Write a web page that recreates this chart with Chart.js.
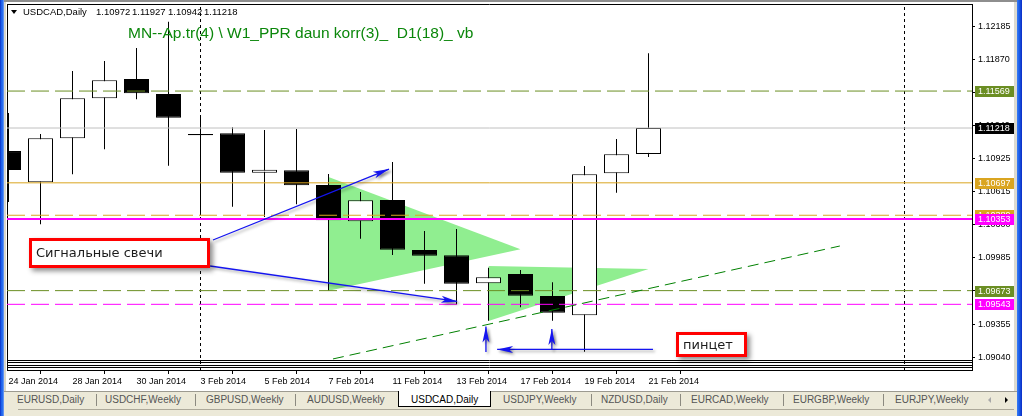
<!DOCTYPE html>
<html>
<head>
<meta charset="utf-8">
<script src="https://cdn.jsdelivr.net/npm/chart.js@4.4.1/dist/chart.umd.min.js"></script>
<style>
  html, body { margin: 0; padding: 0; background: #fff; overflow: hidden; }
  #wrap { position: relative; width: 1022px; height: 416px; background: #fff; font-family: "Liberation Sans", Arial, sans-serif; }
  #c { position: absolute; left: 0; top: 0; }
  .abs { position: absolute; white-space: pre; }
  #topbar { left: 0; top: 0; width: 1022px; height: 2px; background: #8e8e8e; }
  #lframe { left: 0; top: 0; width: 4px; height: 416px; background: linear-gradient(to right, #0a2bc4 0, #1a5de8 30%, #2f73f2 75%, #8fb0f0 100%); }
  #lgap { left: 4px; top: 2px; width: 2px; height: 414px; background: #d8d6cc; }
  #rgap { left: 1014px; top: 2px; width: 3px; height: 414px; background: #dcdad0; }
  #rframe { left: 1017px; top: 0; width: 5px; height: 416px; background: linear-gradient(to right, #3a7cf4 0, #1a5de8 45%, #0a2bc4 100%); }
  #hdrTri { left: 11px; top: 10px; width: 0; height: 0; border-left: 3px solid transparent; border-right: 3px solid transparent; border-top: 4px solid #000; }
  .hdr { top: 6px; font-size: 9.5px; line-height: 12px; color: #000; }
  #title { left: 128px; top: 24px; font-size: 15.5px; line-height: 18px; color: #0b870b; }
  #tabs { left: 4px; top: 391px; width: 1013px; height: 25px; background: #ece9d8; border-top: 1px solid #9c9a90; box-sizing: border-box; }
  #tabsLine { left: 18px; top: 409px; width: 996px; height: 1px; background: #aca899; }
  .tab { top: 394px; font-size: 10px; line-height: 12px; color: #555; }
  .tab.on { color: #000; }
  .sep { top: 394px; width: 1px; height: 12px; background: #8c8a80; }
  #active { left: 398px; top: 391px; width: 93px; height: 16px; background: #fff; border: 1px solid #000; border-top: none; box-sizing: border-box; }
  #navL { left: 988px; top: 397px; width: 0; height: 0; border-top: 3px solid transparent; border-bottom: 3px solid transparent; border-right: 3px solid #a8a8a8; }
  #navR { left: 1005px; top: 397px; width: 0; height: 0; border-top: 3px solid transparent; border-bottom: 3px solid transparent; border-left: 3px solid #000; }
</style>
</head>
<body>
<div id="wrap">
  <canvas id="c" width="1022" height="391"></canvas>
  <div class="abs" id="topbar"></div>
  <div class="abs" id="lframe"></div>
  <div class="abs" id="lgap"></div>
  <div class="abs" id="rgap"></div>
  <div class="abs" id="rframe"></div>
  <div class="abs" id="hdrTri"></div>
  <div class="abs hdr" style="left:23px">USDCAD,Daily</div>
  <div class="abs hdr" id="q0" style="left:96px"></div>
  <div class="abs hdr" id="q1" style="left:132px"></div>
  <div class="abs hdr" id="q2" style="left:168px"></div>
  <div class="abs hdr" id="q3" style="left:204px"></div>
  <div class="abs" id="title">MN--Ap.tr(4) \ W1_PPR daun korr(3)_  D1(18)_ vb</div>
  <div class="abs" id="tabs"></div>
  <div class="abs" id="tabsLine"></div>
  <div class="abs" id="active"></div>
  <div class="abs" id="navL"></div>
  <div class="abs" id="navR"></div>
</div>
<script>
// ---- daily USDCAD candles ----
const days = ['24 Jan 2014', '27 Jan 2014', '28 Jan 2014', '29 Jan 2014', '30 Jan 2014', '31 Jan 2014',
  '3 Feb 2014', '4 Feb 2014', '5 Feb 2014', '6 Feb 2014', '7 Feb 2014', '10 Feb 2014', '11 Feb 2014',
  '12 Feb 2014', '13 Feb 2014', '14 Feb 2014', '17 Feb 2014', '18 Feb 2014', '19 Feb 2014', '20 Feb 2014', '21 Feb 2014'];
const opens  = [1.10999, 1.10702, 1.11120, 1.11500, 1.11684, 1.11541, 1.11160, 1.11168, 1.10793, 1.10816, 1.10677,
  1.10332, 1.10534, 1.10059, 1.10009, 1.09743, 1.09831, 1.09622, 1.09439, 1.10788, 1.10972];
const highs  = [1.11361, 1.11161, 1.11760, 1.11855, 1.11978, 1.12228, 1.11316, 1.11225, 1.11199, 1.11208, 1.10781,
  1.10610, 1.10895, 1.10239, 1.10258, 1.09891, 1.09869, 1.09752, 1.10857, 1.11114, 1.11927];
const lows   = [1.10515, 1.10303, 1.10778, 1.11016, 1.11491, 1.10860, 1.10391, 1.10470, 1.10372, 1.10493, 1.09673,
  1.10166, 1.10011, 1.09739, 1.09543, 1.09387, 1.09515, 1.09387, 1.09093, 1.10603, 1.10942];
const closes = [1.10819, 1.11120, 1.11500, 1.11671, 1.11548, 1.11316, 1.11150, 1.10793, 1.10822, 1.10674, 1.10341,
  1.10531, 1.10062, 1.10005, 1.09739, 1.09800, 1.09625, 1.09463, 1.10778, 1.10968, 1.11218];

// date ticks (bar indices) and price ticks of the scales
const dateTicks = [0, 2, 4, 6, 8, 10, 12, 14, 16, 18, 20];
const priceTicks = [1.12185, 1.11870, 1.11555, 1.11240, 1.10925, 1.10615, 1.10300, 1.09985, 1.09670, 1.09355, 1.09040];

// horizontal levels: olive, bid, gold, gold dashed, magenta, olive, magenta dashed
const levels = [1.11569, 1.11218, 1.10697, 1.10389, 1.10353, 1.09673, 1.09543];

// two green triangles: left edge bar, top/bottom of that edge, apex bar and apex price
const triLeftX = [10, 15];
const triTopY = [1.10753, 1.09907];
const triBottomY = [1.09673, 1.09385];
const triApexX = [16, 20];
const triApexY = [1.10066, 1.09879];

// dashed support trend line (bar index, price)
const trendX = [10.14, 25.98];
const trendY = [1.09024, 1.10097];

// vertical dotted markers (bar index)
const vMarks = [6, 28];

// blue arrows: start and tip (bar index, price)
const arrowFrom = [[6.39, 1.10154], [6.30, 1.09907], [14.92, 1.09090], [16.98, 1.09109], [20.14, 1.09114]];
const arrowTo   = [[11.89, 1.10828], [14.02, 1.09570], [14.92, 1.09332], [16.98, 1.09309], [15.27, 1.09114]];

// text notes anchored at (bar index, price) of their top-left corner
const notes = ['Сигнальные свечи', 'пинцет'];
const noteAt = [[0.65, 1.10173], [20.86, 1.09280]];

// ---- styling ----
const X_MIN = -0.046875, X_MAX = 30.109375;
const Y_MIN = 1.08919, Y_MAX = 1.12396;
const levelStyle = [
  { color: '#6b8e23', dash: [18, 6], width: 1, label: '#6b8e23' },
  { color: '#c0c0c0', dash: [], width: 1, label: '#000000' },
  { color: '#daa520', dash: [], width: 1, label: '#daa520' },
  { color: '#daa520', dash: [18, 6], width: 1, label: '#daa520' },
  { color: '#ff00ff', dash: [], width: 2, label: '#ff00ff' },
  { color: '#6b8e23', dash: [18, 6], width: 1, label: '#6b8e23' },
  { color: '#ff00ff', dash: [18, 6], width: 1, label: '#ff00ff' }
];
const noteBox = [{ w: 181, h: 30 }, { w: 71, h: 25 }];
const AXIS_FONT = { family: 'Liberation Sans', size: 9 };

// header quote values
['q0', 'q1', 'q2', 'q3'].forEach((id, k) => {
  const v = [opens[20], highs[20], lows[20], closes[20]][k];
  document.getElementById(id).textContent = v.toFixed(5);
});

// symbol tabs
const tabNames = ['EURUSD,Daily', 'USDCHF,Weekly', 'GBPUSD,Weekly', 'AUDUSD,Weekly', 'USDCAD,Daily',
  'USDJPY,Weekly', 'NZDUSD,Daily', 'EURCAD,Weekly', 'EURGBP,Weekly', 'EURJPY,Weekly'];
const tabLeft = [17, 105, 206, 307, 411, 503, 601, 691, 793, 895];
const sepLeft = [96, 195, 295, 591, 680, 783, 883];
const wrap = document.getElementById('wrap');
tabNames.forEach((t, k) => {
  const d = document.createElement('div');
  d.className = 'abs tab' + (k === 4 ? ' on' : '');
  d.style.left = tabLeft[k] + 'px';
  d.textContent = t;
  wrap.appendChild(d);
});
sepLeft.forEach(x => {
  const d = document.createElement('div');
  d.className = 'abs sep';
  d.style.left = x + 'px';
  wrap.appendChild(d);
});

// ---- datasets ----
const idx = days.map((_, i) => i);
const ds = [];

// arrows on top
arrowFrom.forEach((a, k) => {
  ds.push({ type: 'line', arrow: true, order: 10,
    data: [{ x: a[0], y: a[1] }, { x: arrowTo[k][0], y: arrowTo[k][1] }],
    borderColor: '#1414f0', borderWidth: 1.3, pointRadius: 0, fill: false });
});
// trend line
ds.push({ type: 'line', order: 15,
  data: [{ x: trendX[0], y: trendY[0] }, { x: trendX[1], y: trendY[1] }],
  borderColor: '#008000', borderWidth: 1, borderDash: [11, 6], pointRadius: 0, fill: false });
// horizontal levels
levels.forEach((v, k) => {
  const s = levelStyle[k];
  ds.push({ type: 'line', order: 20 + k * 0.1,
    data: [{ x: X_MIN, y: v }, { x: X_MAX, y: v }],
    borderColor: s.color, borderWidth: s.width, borderDash: s.dash, pointRadius: 0, fill: false });
});
// vertical dotted markers
vMarks.forEach(v => {
  ds.push({ type: 'line', order: 25,
    data: [{ x: v, y: Y_MIN }, { x: v, y: Y_MAX }],
    borderColor: '#000', borderWidth: 1, borderDash: [3, 3], pointRadius: 0, fill: false });
});
// candle bodies
ds.push({ type: 'bar', order: 30,
  data: idx.map(i => ({ x: i, y: [opens[i], closes[i]] })),
  backgroundColor: idx.map(i => closes[i] >= opens[i] ? '#ffffff' : '#000000'),
  borderColor: '#000', borderWidth: 1, borderSkipped: false,
  barThickness: 25, grouped: false, inflateAmount: 0 });
// candle wicks
ds.push({ type: 'bar', order: 40,
  data: idx.map(i => ({ x: i, y: [lows[i], highs[i]] })),
  backgroundColor: '#000', borderWidth: 0,
  barThickness: 1, grouped: false, inflateAmount: 0 });
// green triangles: upper edge filled down to lower edge
triLeftX.forEach((x0, k) => {
  ds.push({ type: 'line', order: 50,
    data: [{ x: x0, y: triTopY[k] }, { x: triApexX[k], y: triApexY[k] }],
    borderColor: '#90ee90', borderWidth: 0, pointRadius: 0,
    backgroundColor: '#90ee90', fill: '+1' });
  ds.push({ type: 'line', order: 50,
    data: [{ x: x0, y: triBottomY[k] }, { x: triApexX[k], y: triApexY[k] }],
    borderColor: '#90ee90', borderWidth: 0, pointRadius: 0, fill: false });
});

// ---- plugins ----
const framePlugin = {
  id: 'frame',
  beforeDatasetsDraw(chart) {
    const { ctx, chartArea: a } = chart;
    ctx.save();
    ctx.strokeStyle = '#000';
    ctx.lineWidth = 1;
    ctx.beginPath();
    ctx.moveTo(a.left + 0.5, a.top); ctx.lineTo(a.left + 0.5, a.bottom);
    ctx.moveTo(a.left, a.top + 0.5); ctx.lineTo(a.right, a.top + 0.5);
    [360.5, 362.5, 365.5, 367.5].forEach(y => { ctx.moveTo(a.left, y); ctx.lineTo(a.right, y); });
    ctx.stroke();
    ctx.restore();
  }
};

const arrowPlugin = {
  id: 'arrowHeads',
  beforeDatasetDraw(chart, args) {
    const d = chart.data.datasets[args.index];
    if (!d.arrow) return;
    const ctx = chart.ctx;
    ctx.save();
    ctx.shadowColor = 'rgba(0,0,0,0.38)';
    ctx.shadowBlur = 3;
    ctx.shadowOffsetX = 2;
    ctx.shadowOffsetY = 2;
  },
  afterDatasetDraw(chart, args) {
    const d = chart.data.datasets[args.index];
    if (!d.arrow) return;
    const ctx = chart.ctx;
    const pts = args.meta.data;
    const a = pts[0], b = pts[pts.length - 1];
    const ang = Math.atan2(b.y - a.y, b.x - a.x);
    ctx.translate(b.x, b.y);
    ctx.rotate(ang);
    ctx.beginPath();
    ctx.moveTo(0, 0);
    ctx.lineTo(-16, -3.5);
    ctx.lineTo(-12, 0);
    ctx.lineTo(-16, 3.5);
    ctx.closePath();
    ctx.fillStyle = '#1414f0';
    ctx.fill();
    ctx.restore();
  }
};

const notePlugin = {
  id: 'notes',
  afterDatasetsDraw(chart) {
    const { ctx, scales: { x, y } } = chart;
    notes.forEach((t, k) => {
      const px = Math.round(x.getPixelForValue(noteAt[k][0]));
      const py = Math.round(y.getPixelForValue(noteAt[k][1]));
      const { w, h } = noteBox[k];
      ctx.save();
      ctx.shadowColor = 'rgba(0,0,0,0.45)';
      ctx.shadowBlur = 5;
      ctx.shadowOffsetX = 3;
      ctx.shadowOffsetY = 3;
      ctx.fillStyle = '#fff';
      ctx.fillRect(px, py, w, h);
      ctx.restore();
      ctx.save();
      ctx.strokeStyle = '#ff0000';
      ctx.lineWidth = 3;
      ctx.strokeRect(px + 1.5, py + 1.5, w - 3, h - 3);
      ctx.fillStyle = '#1c1c1c';
      ctx.font = '13px "DejaVu Sans"';
      ctx.textBaseline = 'middle';
      ctx.fillText(t, px + 7, py + h / 2 + 1);
      ctx.restore();
    });
  }
};

const priceTagPlugin = {
  id: 'priceTags',
  afterDraw(chart) {
    const { ctx, scales: { y }, chartArea: a } = chart;
    ctx.save();
    ctx.font = '9px "Liberation Sans"';
    ctx.textBaseline = 'middle';
    levels.forEach((v, k) => {
      const py = Math.round(y.getPixelForValue(v));
      ctx.fillStyle = levelStyle[k].label;
      ctx.fillRect(a.right + 3, py - 5, 39, 11);
      ctx.fillStyle = '#fff';
      ctx.fillText(v.toFixed(5), a.right + 6, py + 0.5);
    });
    ctx.restore();
  }
};

new Chart(document.getElementById('c'), {
  type: 'bar',
  data: { datasets: ds },
  options: {
    responsive: false,
    animation: false,
    events: [],
    devicePixelRatio: 1,
    layout: { padding: { left: 7, top: 4, right: 0, bottom: 0 } },
    plugins: { legend: { display: false }, tooltip: { enabled: false } },
    scales: {
      x: {
        type: 'linear', position: 'bottom', min: X_MIN, max: X_MAX, offset: false,
        afterBuildTicks: s => { s.ticks = dateTicks.map(v => ({ value: v })); },
        afterFit: s => { s.height = 21; s.paddingLeft = 0; s.paddingRight = 0; },
        ticks: { autoSkip: false, maxRotation: 0, minRotation: 0, align: 'start', padding: 2,
          color: '#000', font: AXIS_FONT, callback: v => days[v] },
        grid: { drawOnChartArea: false, drawTicks: true, tickLength: 4, color: '#000' },
        border: { display: true, color: '#000' }
      },
      y: {
        type: 'linear', position: 'right', min: Y_MIN, max: Y_MAX,
        afterBuildTicks: s => { s.ticks = priceTicks.map(v => ({ value: v })); },
        afterFit: s => { s.width = 50; s.paddingTop = 0; s.paddingBottom = 0; },
        ticks: { autoSkip: false, padding: 3, color: '#000', font: AXIS_FONT, callback: v => v.toFixed(5) },
        grid: { drawOnChartArea: false, drawTicks: true, tickLength: 3, color: '#000' },
        border: { display: true, color: '#000' }
      }
    }
  },
  plugins: [framePlugin, arrowPlugin, notePlugin, priceTagPlugin]
});
</script>
</body>
</html>
